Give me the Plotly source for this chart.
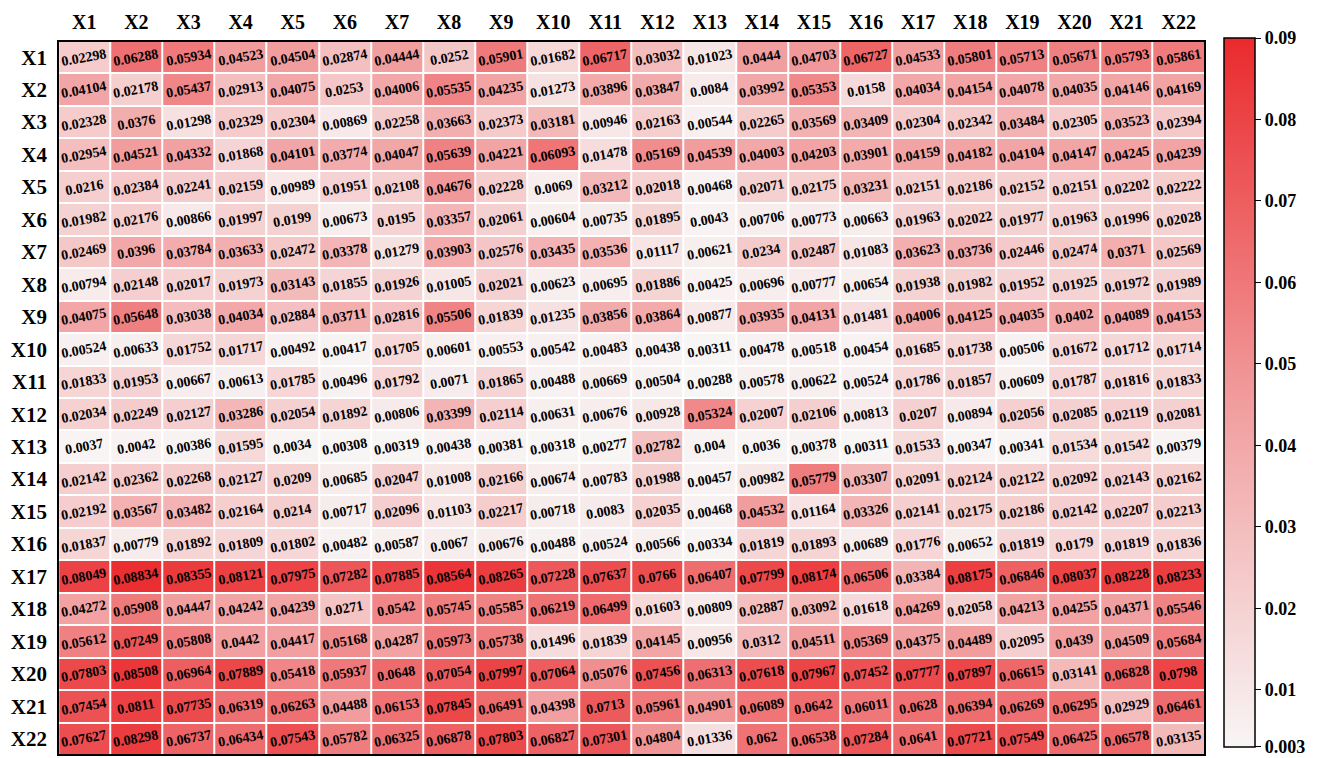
import plotly.graph_objects as go

labels = [f"X{i}" for i in range(1, 23)]

r01 = [0.02298, 0.06288, 0.05934, 0.04523, 0.04504, 0.02874, 0.04444, 0.0252, 0.05901, 0.01682, 0.06717, 0.03032, 0.01023, 0.0444, 0.04703, 0.06727, 0.04533, 0.05801, 0.05713, 0.05671, 0.05793, 0.05861]
r02 = [0.04104, 0.02178, 0.05437, 0.02913, 0.04075, 0.0253, 0.04006, 0.05535, 0.04235, 0.01273, 0.03896, 0.03847, 0.0084, 0.03992, 0.05353, 0.0158, 0.04034, 0.04154, 0.04078, 0.04035, 0.04146, 0.04169]
r03 = [0.02328, 0.0376, 0.01298, 0.02329, 0.02304, 0.00869, 0.02258, 0.03663, 0.02373, 0.03181, 0.00946, 0.02163, 0.00544, 0.02265, 0.03569, 0.03409, 0.02304, 0.02342, 0.03484, 0.02305, 0.03523, 0.02394]
r04 = [0.02954, 0.04521, 0.04332, 0.01868, 0.04101, 0.03774, 0.04047, 0.05639, 0.04221, 0.06093, 0.01478, 0.05169, 0.04539, 0.04003, 0.04203, 0.03901, 0.04159, 0.04182, 0.04104, 0.04147, 0.04245, 0.04239]
r05 = [0.0216, 0.02384, 0.02241, 0.02159, 0.00989, 0.01951, 0.02108, 0.04676, 0.02228, 0.0069, 0.03212, 0.02018, 0.00468, 0.02071, 0.02175, 0.03231, 0.02151, 0.02186, 0.02152, 0.02151, 0.02202, 0.02222]
r06 = [0.01982, 0.02176, 0.00866, 0.01997, 0.0199, 0.00673, 0.0195, 0.03357, 0.02061, 0.00604, 0.00735, 0.01895, 0.0043, 0.00706, 0.00773, 0.00663, 0.01963, 0.02022, 0.01977, 0.01963, 0.01996, 0.02028]
r07 = [0.02469, 0.0396, 0.03784, 0.03633, 0.02472, 0.03378, 0.01279, 0.03903, 0.02576, 0.03435, 0.03536, 0.01117, 0.00621, 0.0234, 0.02487, 0.01083, 0.03623, 0.03736, 0.02446, 0.02474, 0.0371, 0.02569]
r08 = [0.00794, 0.02148, 0.02017, 0.01973, 0.03143, 0.01855, 0.01926, 0.01005, 0.02021, 0.00623, 0.00695, 0.01886, 0.00425, 0.00696, 0.00777, 0.00654, 0.01938, 0.01982, 0.01952, 0.01925, 0.01972, 0.01989]
r09 = [0.04075, 0.05648, 0.03038, 0.04034, 0.02884, 0.03711, 0.02816, 0.05506, 0.01839, 0.01235, 0.03856, 0.03864, 0.00877, 0.03935, 0.04131, 0.01481, 0.04006, 0.04125, 0.04035, 0.0402, 0.04089, 0.04153]
r10 = [0.00524, 0.00633, 0.01752, 0.01717, 0.00492, 0.00417, 0.01705, 0.00601, 0.00553, 0.00542, 0.00483, 0.00438, 0.00311, 0.00478, 0.00518, 0.00454, 0.01685, 0.01738, 0.00506, 0.01672, 0.01712, 0.01714]
r11 = [0.01833, 0.01953, 0.00667, 0.00613, 0.01785, 0.00496, 0.01792, 0.0071, 0.01865, 0.00488, 0.00669, 0.00504, 0.00288, 0.00578, 0.00622, 0.00524, 0.01786, 0.01857, 0.00609, 0.01787, 0.01816, 0.01833]
r12 = [0.02034, 0.02249, 0.02127, 0.03286, 0.02054, 0.01892, 0.00806, 0.03399, 0.02114, 0.00631, 0.00676, 0.00928, 0.05324, 0.02007, 0.02106, 0.00813, 0.0207, 0.00894, 0.02056, 0.02085, 0.02119, 0.02081]
r13 = [0.0037, 0.0042, 0.00386, 0.01595, 0.0034, 0.00308, 0.00319, 0.00438, 0.00381, 0.00318, 0.00277, 0.02782, 0.004, 0.0036, 0.00378, 0.00311, 0.01533, 0.00347, 0.00341, 0.01534, 0.01542, 0.00379]
r14 = [0.02142, 0.02362, 0.02268, 0.02127, 0.0209, 0.00685, 0.02047, 0.01008, 0.02166, 0.00674, 0.00783, 0.01988, 0.00457, 0.00982, 0.05779, 0.03307, 0.02091, 0.02124, 0.02122, 0.02092, 0.02143, 0.02162]
r15 = [0.02192, 0.03567, 0.03482, 0.02164, 0.0214, 0.00717, 0.02096, 0.01103, 0.02217, 0.00718, 0.0083, 0.02035, 0.00468, 0.04532, 0.01164, 0.03326, 0.02141, 0.02175, 0.02186, 0.02142, 0.02207, 0.02213]
r16 = [0.01837, 0.00779, 0.01892, 0.01809, 0.01802, 0.00482, 0.00587, 0.0067, 0.00676, 0.00488, 0.00524, 0.00566, 0.00334, 0.01819, 0.01893, 0.00689, 0.01776, 0.00652, 0.01819, 0.0179, 0.01819, 0.01836]
r17 = [0.08049, 0.08834, 0.08355, 0.08121, 0.07975, 0.07282, 0.07885, 0.08564, 0.08265, 0.07228, 0.07637, 0.0766, 0.06407, 0.07799, 0.08174, 0.06506, 0.03384, 0.08175, 0.06846, 0.08037, 0.08228, 0.08233]
r18 = [0.04272, 0.05908, 0.04447, 0.04242, 0.04239, 0.0271, 0.0542, 0.05745, 0.05585, 0.06219, 0.06499, 0.01603, 0.00809, 0.02887, 0.03092, 0.01618, 0.04269, 0.02058, 0.04213, 0.04255, 0.04371, 0.05546]
r19 = [0.05612, 0.07249, 0.05808, 0.0442, 0.04417, 0.05168, 0.04287, 0.05973, 0.05738, 0.01496, 0.01839, 0.04145, 0.00956, 0.0312, 0.04511, 0.05369, 0.04375, 0.04489, 0.02095, 0.0439, 0.04509, 0.05684]
r20 = [0.07803, 0.08508, 0.06964, 0.07889, 0.05418, 0.05937, 0.0648, 0.07054, 0.07997, 0.07064, 0.05076, 0.07456, 0.06313, 0.07618, 0.07967, 0.07452, 0.07777, 0.07897, 0.06615, 0.03141, 0.06828, 0.0798]
r21 = [0.07454, 0.0811, 0.07735, 0.06319, 0.06263, 0.04488, 0.06153, 0.07845, 0.06491, 0.04398, 0.0713, 0.05961, 0.04901, 0.06089, 0.0642, 0.06011, 0.0628, 0.06394, 0.06269, 0.06295, 0.02929, 0.06461]
r22 = [0.07627, 0.08298, 0.06737, 0.06434, 0.07543, 0.05782, 0.06325, 0.06878, 0.07803, 0.06827, 0.07301, 0.04804, 0.01336, 0.062, 0.06538, 0.07284, 0.0641, 0.07721, 0.07549, 0.06425, 0.06578, 0.03135]

rows = [r01, r02, r03, r04, r05, r06, r07, r08, r09, r10, r11, r12,
        r13, r14, r15, r16, r17, r18, r19, r20, r21, r22]

cbar_ticks = [0.003, 0.01, 0.02, 0.03, 0.04, 0.05, 0.06, 0.07, 0.08, 0.09]
cbar_text = ["0.003", "0.01", "0.02", "0.03", "0.04", "0.05", "0.06", "0.07", "0.08", "0.09"]

FONT = "Liberation Serif"
ZMIN, ZMAX = 0.003, 0.09

fig = go.Figure()
fig.add_trace(go.Heatmap(
    z=rows, x=labels, y=labels,
    zmin=ZMIN - 1e-6, zmax=ZMAX + 1e-6,
    colorscale=[[0.0, "#f8f5f5"], [0.5, "#f19a9b"], [1.0, "#ea2a2d"]],
    xgap=2, ygap=2,
    hoverinfo="skip",
    colorbar=dict(
        x=1.017, xanchor="left", xpad=0,
        y=0.5077, yanchor="middle", ypad=0,
        lenmode="pixels", len=709,
        thickness=31, thicknessmode="pixels",
        outlinewidth=1.5, outlinecolor="black",
        tickmode="array", tickvals=cbar_ticks, ticktext=cbar_text,
        ticklabeloverflow="allow",
        ticks="outside", ticklen=6, tickcolor="black",
        tickfont=dict(family=FONT, size=18, color="black", weight="bold"),
    ),
))

annotations = []
for i, row in enumerate(rows):
    for j, v in enumerate(row):
        annotations.append(dict(
            x=labels[j], y=labels[i], xref="x", yref="y", text=f"{v:g}",
            showarrow=False, textangle=-10,
            font=dict(family=FONT, size=14, color="black", weight="bold"),
        ))

fig.add_shape(type="rect", xref="paper", yref="paper", x0=0, y0=0, x1=1, y1=1,
              line=dict(color="black", width=2), layer="above")

fig.update_xaxes(side="top", showgrid=False, zeroline=False, ticks="",
                 ticklabelstandoff=7,
                 tickfont=dict(family=FONT, size=20, color="black", weight="bold"))
fig.update_yaxes(autorange="reversed", showgrid=False, zeroline=False, ticks="",
                 ticklabelstandoff=10,
                 tickfont=dict(family=FONT, size=21, color="black", weight="bold"))

# the page places the figure 8px in from the top-left corner
fig.update_layout(
    width=1325, height=750,
    margin=dict(l=44, r=128, t=29, b=3),
    paper_bgcolor="white", plot_bgcolor="white",
    showlegend=False,
    annotations=annotations,
)

fig.write_html("out.html")
